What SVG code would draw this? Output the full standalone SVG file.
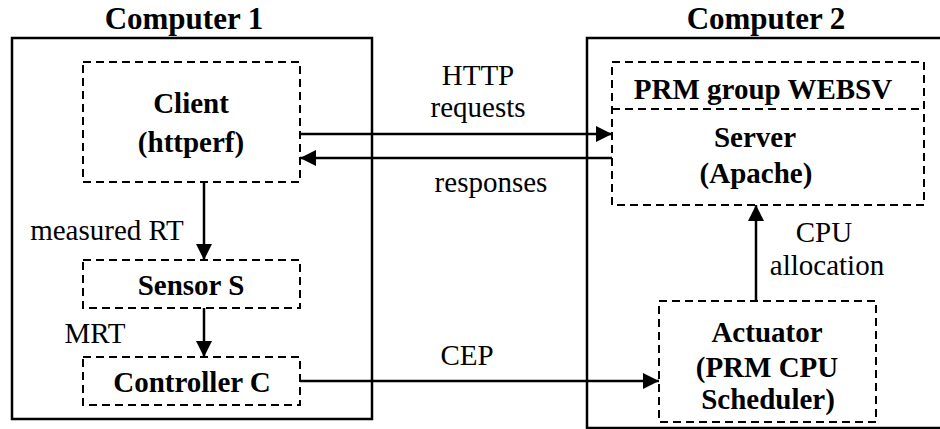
<svg xmlns="http://www.w3.org/2000/svg" width="940" height="429" viewBox="0 0 940 429">
  <style>
    .computer { fill: none; stroke: #000; stroke-width: 2.5; }
    .box { fill: none; stroke: #000; stroke-width: 2; stroke-dasharray: 8 5; }
    text { font-family: 'Liberation Serif', 'DejaVu Serif', serif; fill: #000; text-anchor: middle; }
    .title { font-weight: bold; font-size: 31px; }
    .bold { font-weight: bold; font-size: 29px; }
    .label { font-weight: normal; font-size: 29px; }
    .wire { fill: none; stroke: #000; stroke-width: 2.5; marker-end: url(#head); }
  </style>
  <defs>
    <marker id="head" viewBox="0 0 16 16" refX="16" refY="8" markerWidth="16" markerHeight="16" markerUnits="userSpaceOnUse" orient="auto">
      <path d="M0,0 L16,8 L0,16 Z" fill="#000"/>
    </marker>
  </defs>
  <rect width="940" height="429" fill="#fff"/>

  <g id="computer1">
    <rect class="computer" x="12" y="38" width="360" height="381"/>
    <text class="title" x="184" y="29" font-family="Liberation Serif, serif">Computer 1</text>
  </g>
  <g id="computer2">
    <rect class="computer" x="587" y="38" width="370" height="390"/>
    <text class="title" x="766" y="29">Computer 2</text>
  </g>

  <g id="client">
    <rect class="box" x="83" y="62" width="217" height="120"/>
    <text class="bold" x="191" y="113">Client</text>
    <text class="bold" x="191" y="152">(httperf)</text>
  </g>
  <g id="sensor">
    <rect class="box" x="83" y="260" width="217" height="48"/>
    <text class="bold" x="191" y="295">Sensor S</text>
  </g>
  <g id="controller">
    <rect class="box" x="83" y="357" width="217" height="48"/>
    <text class="bold" x="192" y="392">Controller C</text>
  </g>
  <g id="server">
    <rect class="box" x="612" y="62" width="312" height="143"/>
    <line class="box" x1="612" y1="109" x2="924" y2="109"/>
    <text class="bold" x="763" y="99">PRM group WEBSV</text>
    <text class="bold" x="755" y="147">Server</text>
    <text class="bold" x="756" y="183">(Apache)</text>
  </g>
  <g id="actuator">
    <rect class="box" x="659" y="301" width="217" height="121"/>
    <text class="bold" x="767" y="342">Actuator</text>
    <text class="bold" x="767" y="377">(PRM CPU</text>
    <text class="bold" x="768" y="409">Scheduler)</text>
  </g>

  <g id="connectors">
    <line class="wire" x1="300" y1="134" x2="612" y2="134"/>
    <line class="wire" x1="612" y1="158" x2="300" y2="158"/>
    <line class="wire" x1="204" y1="182" x2="204" y2="260"/>
    <line class="wire" x1="204" y1="308" x2="204" y2="357"/>
    <line class="wire" x1="300" y1="381" x2="659" y2="381"/>
    <line class="wire" x1="756" y1="301" x2="756" y2="205"/>
    <text class="label" x="478" y="85">HTTP</text>
    <text class="label" x="478" y="117">requests</text>
    <text class="label" x="491" y="192">responses</text>
    <text class="label" x="107" y="240">measured RT</text>
    <text class="label" x="95" y="343">MRT</text>
    <text class="label" x="467" y="365">CEP</text>
    <text class="label" x="824" y="242">CPU</text>
    <text class="label" x="827" y="275">allocation</text>
  </g>
</svg>
